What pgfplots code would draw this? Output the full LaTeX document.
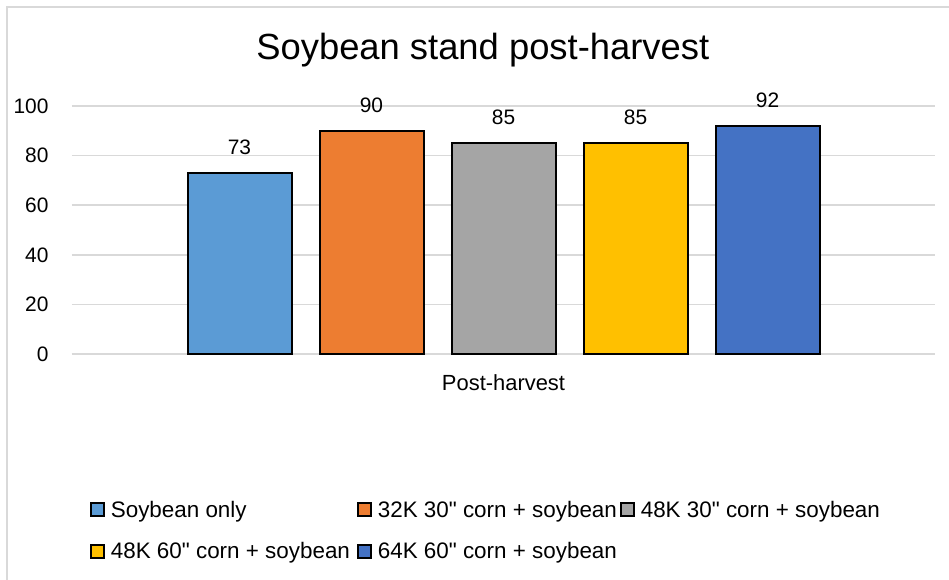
\documentclass[border=0pt]{standalone}
\usepackage{pgfplots}
\pgfplotsset{compat=1.18}
\usepackage{fontspec}
\setmainfont{Liberation Sans}

\definecolor{gridgray}{RGB}{217,217,217}
\definecolor{sbOnly}{RGB}{91,155,213}
\definecolor{sbOrange}{RGB}{237,125,49}
\definecolor{sbGray}{RGB}{165,165,165}
\definecolor{sbYellow}{RGB}{255,192,0}
\definecolor{sbBlue}{RGB}{68,114,196}

\begin{document}
\begin{tikzpicture}
% page frame: pixel (x,y) of the reference -> (x-72, 354-y) bp
\useasboundingbox[fill=white] (-72bp,-226bp) rectangle (877bp,354bp);
\draw[gridgray, line width=1.5bp] (-65bp,-226bp) -- (-65bp,347bp) -- (877bp,347bp);
\begin{axis}[
    scale only axis,
    width=863bp, height=248bp,
    ymin=0, ymax=100,
    xmin=-1, xmax=1,
    ytick={0,20,...,100},
    xtick={0},
    xticklabels={Post-harvest},
    ybar=28bp,
    bar width=104bp,
    ymajorgrids,
    grid style={gridgray, line width=1.5bp},
    axis x line*=bottom,
    axis y line*=left,
    x axis line style={gridgray, line width=1.5bp, -},
    y axis line style={draw=none},
    major tick length=0pt,
    tick label style={font=\fontsize{19.5}{22}\selectfont},
    yticklabel style={font=\fontsize{21}{24}\selectfont, xshift=-20bp},
    xticklabel style={font=\fontsize{22}{25}\selectfont, yshift=-17bp},
    /pgf/number format/assume math mode=true,
    title={Soybean stand post-harvest},
    title style={font=\fontsize{36.5}{40}\selectfont, at={(axis description cs:0.476,1.20)}, anchor=center},
    nodes near coords,
    nodes near coords style={font=\fontsize{21}{24}\selectfont, anchor=south, yshift=14bp, text=black},
    legend style={at={(axis description cs:0.017,-0.575)}, anchor=north west,
        draw=none, fill=none, legend columns=3,
        font=\fontsize{22.5}{25}\selectfont,
        cells={anchor=west},
        row sep=20bp,
        /tikz/every even column/.append style={column sep=0bp}},
    legend image code/.code={\draw[#1, draw=black, line width=2bp] (0bp,-6.5bp) rectangle (13bp,6.5bp);
        \path (17bp,0bp);},
]
\addplot[draw=black, line width=2bp, fill=sbOnly] coordinates {(0,73)};
\addplot[draw=black, line width=2bp, fill=sbOrange] coordinates {(0,90)};
\addplot[draw=black, line width=2bp, fill=sbGray] coordinates {(0,85)};
\addplot[draw=black, line width=2bp, fill=sbYellow] coordinates {(0,85)};
\addplot[draw=black, line width=2bp, fill=sbBlue] coordinates {(0,92)};
\legend{\makebox[244bp][l]{Soybean only},
        \makebox[240bp][l]{32K 30\textquotedbl{} corn + soybean},
        48K 30\textquotedbl{} corn + soybean,
        \makebox[244bp][l]{48K 60\textquotedbl{} corn + soybean},
        \makebox[240bp][l]{64K 60\textquotedbl{} corn + soybean}}
\end{axis}
\end{tikzpicture}
\end{document}
